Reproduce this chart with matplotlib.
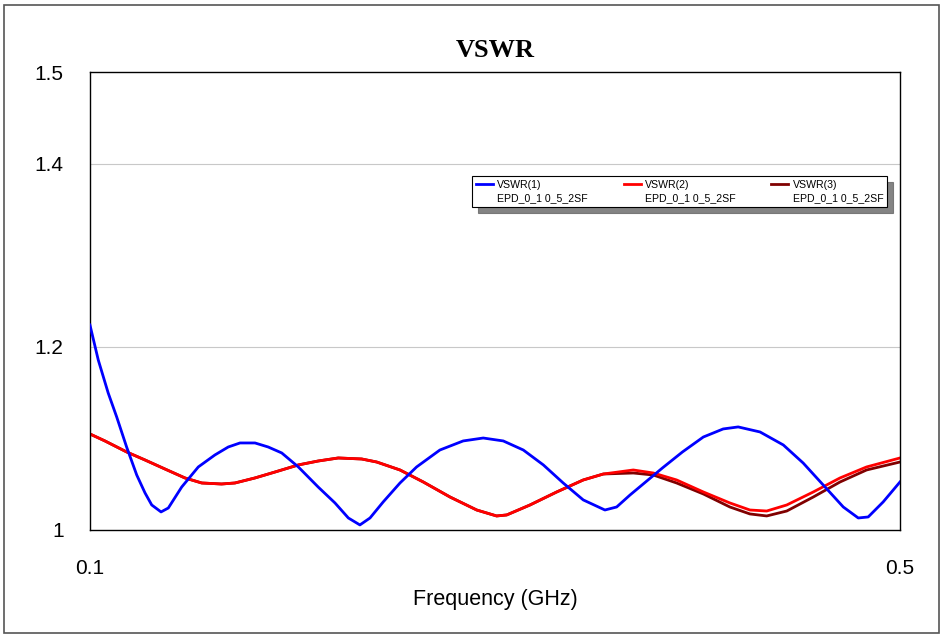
import numpy as np
import matplotlib.pyplot as plt
from matplotlib.patches import Rectangle
from matplotlib.lines import Line2D

# данные
f1 = [0.1, 0.1041, 0.1090, 0.1132, 0.1181, 0.1231, 0.1272, 0.1305, 0.1351, 0.1387,
      0.1453, 0.1535, 0.1617, 0.1683, 0.1741, 0.1815, 0.1880, 0.1947, 0.2029,
      0.2127, 0.2210, 0.2276, 0.2333, 0.2383, 0.2448, 0.2531, 0.2613, 0.2728,
      0.2843, 0.2942, 0.3041, 0.3140, 0.3239, 0.3337, 0.3436, 0.3543, 0.3601,
      0.3667, 0.3827, 0.3926, 0.4029, 0.4127, 0.4201, 0.4309, 0.4424, 0.4522,
      0.4621, 0.4720, 0.4794, 0.4843, 0.4917, 0.5]
vswr1 = [1.2238, 1.1856, 1.1496, 1.1234, 1.0906, 1.0600, 1.0404, 1.0273, 1.0197, 1.0240,
         1.0469, 1.0688, 1.0819, 1.0906, 1.0950, 1.0950, 1.0906, 1.0841, 1.0688,
         1.0469, 1.0295, 1.0131, 1.0055, 1.0131, 1.0306, 1.0513, 1.0688, 1.0873,
         1.0972, 1.1004, 1.0972, 1.0873, 1.0710, 1.0513, 1.0328, 1.0218, 1.0251,
         1.0382, 1.0677, 1.0852, 1.1015, 1.1103, 1.1125, 1.1070, 1.0928, 1.0731,
         1.0491, 1.0251, 1.0131, 1.0142, 1.0306, 1.0524]

f23 = [0.1, 0.1074, 0.1181, 0.1272, 0.1370, 0.1469, 0.1552, 0.1650, 0.1716, 0.1815,
       0.1914, 0.2029, 0.2127, 0.2226, 0.2342, 0.2416, 0.2531, 0.2646, 0.2778,
       0.2910, 0.3008, 0.3058, 0.3173, 0.3305, 0.3436, 0.3535, 0.3683, 0.3782,
       0.3897, 0.4029, 0.4160, 0.4259, 0.4342, 0.4441, 0.4572, 0.4704, 0.4835, 0.5]
vswr2 = [1.1048, 1.0972, 1.0852, 1.0764, 1.0666, 1.0568, 1.0513, 1.0502, 1.0513, 1.0568,
         1.0633, 1.0710, 1.0753, 1.0786, 1.0775, 1.0742, 1.0655, 1.0524, 1.0360,
         1.0218, 1.0153, 1.0164, 1.0273, 1.0415, 1.0546, 1.0611, 1.0655, 1.0622,
         1.0546, 1.0415, 1.0295, 1.0218, 1.0207, 1.0273, 1.0415, 1.0568, 1.0688, 1.0786]
vswr3 = [1.1048, 1.0972, 1.0852, 1.0764, 1.0666, 1.0568, 1.0513, 1.0502, 1.0513, 1.0568,
         1.0633, 1.0710, 1.0753, 1.0786, 1.0775, 1.0742, 1.0655, 1.0524, 1.0360,
         1.0218, 1.0153, 1.0164, 1.0273, 1.0415, 1.0546, 1.0611, 1.0622, 1.0600,
         1.0513, 1.0393, 1.0251, 1.0175, 1.0153, 1.0207, 1.0360, 1.0524, 1.0655, 1.0742]

names = ['VSWR(1)', 'VSWR(2)', 'VSWR(3)']
design = 'EPD_0_1 0_5_2SF'
colors = ['#0000ff', '#ff0000', '#800000']

plt.rcParams['font.family'] = ['Liberation Sans', 'DejaVu Sans']

fig = plt.figure(figsize=(9.41, 6.35), dpi=100)
ax = fig.add_axes([0.0956, 0.1654, 0.8608, 0.7212])

# рамка вокруг рисунка
fig.patches.append(Rectangle((0.004, 0.003), 0.994, 0.989, transform=fig.transFigure,
                             fill=False, edgecolor='#555555', linewidth=1.2))

ax.axhline(1.2, color='#c8c8c8', linewidth=0.8, zorder=0)
ax.axhline(1.4, color='#c8c8c8', linewidth=0.8, zorder=0)

ax.plot(f1, vswr1, color=colors[0], linewidth=2.0, zorder=3)
ax.plot(f23, vswr3, color=colors[2], linewidth=2.0, zorder=2)
ax.plot(f23, vswr2, color=colors[1], linewidth=2.0, zorder=2.5)

ax.set_xlim(0.1, 0.5)
ax.set_ylim(1.0, 1.5)
ax.set_xticks([0.1, 0.5])
ax.set_xticklabels(['0.1', '0.5'])
ax.set_yticks([1.0, 1.2, 1.4, 1.5])
ax.set_yticklabels(['1', '1.2', '1.4', '1.5'])
ax.tick_params(length=0, labelsize=15)
ax.tick_params(axis='x', pad=21)
ax.tick_params(axis='y', pad=19)
for s in ax.spines.values():
    s.set_color('black')
    s.set_linewidth(1.0)

ax.set_title('VSWR', fontsize=19, fontweight='bold', family='Liberation Serif', pad=11)
ax.set_xlabel('Frequency (GHz)', fontsize=15.5, labelpad=8)

# легенда: по два ряда в каждой колонке
handles, labels = [], []
for c, n in zip(colors, names):
    handles += [Line2D([], [], color=c, linewidth=2.0), Line2D([], [], color='none')]
    labels += [n, design]
leg = ax.legend(handles, labels, ncol=3, loc='upper left', bbox_to_anchor=(0.4716, 0.773),
                borderaxespad=0, fontsize=7.6, frameon=True, fancybox=False,
                shadow={'ox': 4, 'oy': -4, 'color': '#666666', 'alpha': 0.8},
                handlelength=1.6, columnspacing=3.4, borderpad=0.4, labelspacing=0.25,
                handletextpad=0.4)
leg.get_frame().set_edgecolor('black')
leg.get_frame().set_linewidth(0.8)

plt.savefig('out.png', dpi=100)
